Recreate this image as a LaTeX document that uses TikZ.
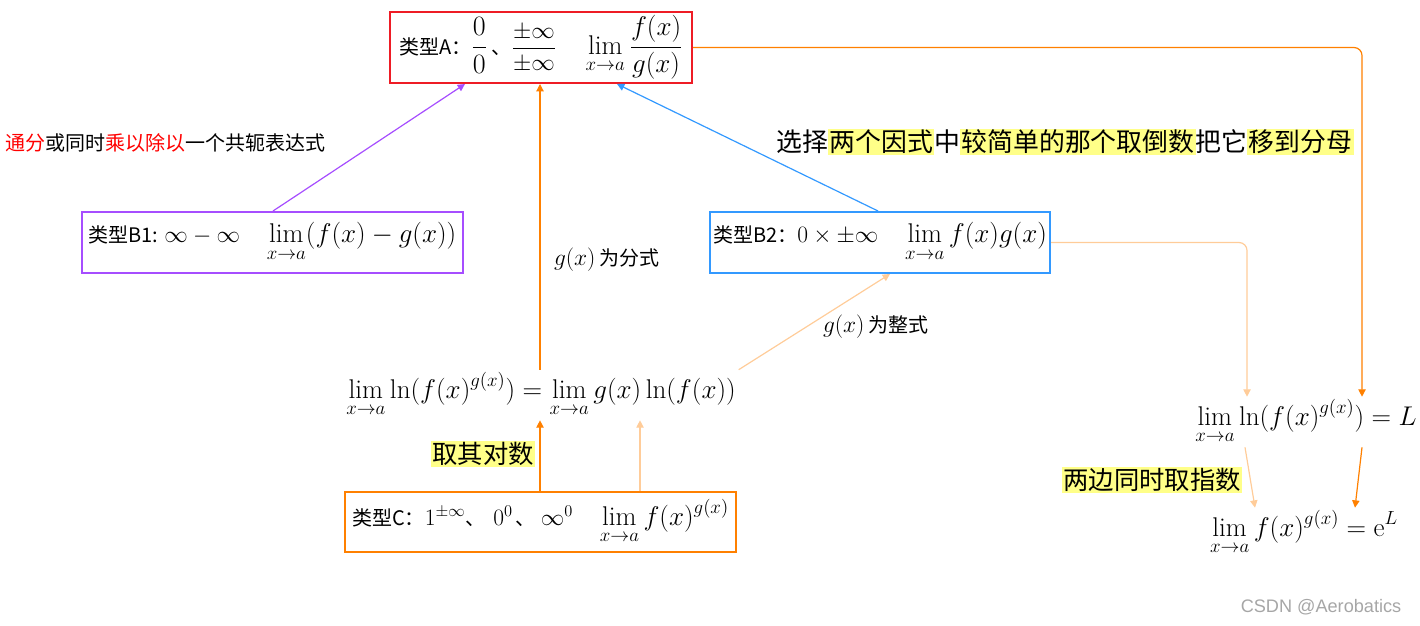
\RequirePackage{fix-cm}
\documentclass[tikz,border=0pt]{standalone}
\usepackage{amsmath}
\usepackage{fontspec}
\newfontfamily\cjk{Noto Sans CJK SC}
\newfontfamily\wmfont{Liberation Sans}
\usetikzlibrary{arrows.meta}
\definecolor{redA}{HTML}{EE1C25}
\definecolor{cpurple}{HTML}{A64DFF}
\definecolor{cblue}{HTML}{3399FF}
\definecolor{corange}{HTML}{FF8000}
\definecolor{clight}{HTML}{FFCC99}
\definecolor{tred}{HTML}{FF0000}
\definecolor{hl}{HTML}{FFFF88}
\newcommand\MyMath{\fontsize{20.3}{24}\selectfont}
\newcommand\MyMathS{\fontsize{17.6}{21}\selectfont}
\newcommand\MyCJK{\cjk\fontsize{15}{17}\selectfont}
\newcommand\hlx[1]{{\setlength{\fboxsep}{1pt}\colorbox{hl}{#1}}}
\begin{document}
\begin{tikzpicture}[x=0.75pt,y=-0.75pt,
  box/.style={draw, line width=1.5pt, inner sep=0pt, fill=white},
  arr/.style={-{Triangle[length=5.5pt,width=5.5pt]}, line width=0.9pt},
  plain/.style={inner sep=2pt}]
\useasboundingbox (0,0) rectangle (1420,625);
% boxes
\node[box, draw=redA, minimum width=226.5pt, minimum height=53.25pt] (A) at (541,47.5)
  {{\MyCJK 类型A：}{\fontsize{21}{24}\selectfont$\dfrac{0}{0}$}\hspace{3pt}{\MyCJK 、}{\MyMathS$\dfrac{\pm\infty}{\pm\infty}$}\hspace{22pt}{\MyMath$\displaystyle\lim_{x\to a}\dfrac{f(x)}{g(x)}$}};
\node[box, draw=cpurple, minimum width=285.75pt, minimum height=45.75pt] (B1) at (272.5,242.5)
  {{\MyCJK 类型B1: }{\MyMathS$\infty-\infty$}\hspace{20pt}{\MyMath$\displaystyle\lim_{x\to a}(f(x)-g(x))$}};
\node[box, draw=cblue, minimum width=255pt, minimum height=45.75pt] (B2) at (880,242.5)
  {{\MyCJK 类型B2：}{\MyMathS$0\times\pm\infty$}\hspace{20pt}{\MyMath$\displaystyle\lim_{x\to a}f(x)g(x)$}};
\node[box, draw=corange, minimum width=293.25pt, minimum height=45pt] (C) at (540.5,522)
  {{\MyCJK 类型C：}{\MyMathS$1^{\pm\infty}$}{\MyCJK 、}\hspace{6pt}{\MyMathS$0^0$}\hspace{2pt}{\MyCJK 、}\hspace{4pt}{\MyMathS$\infty^0$}\hspace{20pt}{\MyMath$\displaystyle\lim_{x\to a}f(x)^{g(x)}$}};
% formulas
\node[plain] (mid) at (541,395) {\MyMath$\displaystyle\lim_{x\to a}\ln(f(x)^{g(x)})=\lim_{x\to a}g(x)\ln(f(x))$};
\node[plain] (R1) at (1306,422) {\MyMath$\displaystyle\lim_{x\to a}\ln(f(x)^{g(x)})=L$};
\node[plain] (R2) at (1304,533) {\MyMath$\displaystyle\lim_{x\to a}f(x)^{g(x)}=\mathrm{e}^L$};
% labels
\node[plain] (L1) at (165,143) {\cjk\fontsize{15}{17}\selectfont\textcolor{tred}{通分}或同时\textcolor{tred}{乘以除以}一个共轭表达式};
\node[plain] (L2) at (1065,142) {\cjk\fontsize{19.4}{21}\selectfont 选择\hlx{两个因式}中\hlx{较简单的那个取倒数}把它\hlx{移到分母}};
\node[plain] (L3) at (483,454) {\cjk\fontsize{19}{21}\selectfont\hlx{取其对数}};
\node[plain] (L4) at (1152,480) {\cjk\fontsize{19}{21}\selectfont\hlx{两边同时取指数}};
\node[plain] (G1) at (607,260) {{\MyMathS$g(x)$} {\MyCJK 为分式}};
\node[plain] (G2) at (876,327) {{\MyMathS$g(x)$} {\MyCJK 为整式}};
\node[plain, text=gray!70] (W) at (1321,607) {\wmfont\fontsize{13.6}{15}\selectfont CSDN @Aerobatics};
% x positions
\coordinate (xA) at (540,0);
\coordinate (xB) at (640,0);
\coordinate (xC) at (890,0);
\coordinate (xD) at (878,0);
\coordinate (xE) at (617,0);
\coordinate (xF) at (273,0);
\coordinate (xG) at (465,0);
\coordinate (xH) at (1362,0);
\coordinate (xI) at (1247,0);
\coordinate (xI2) at (1245,0);
\coordinate (xJ) at (1255,0);
\coordinate (xK) at (1355,0);
% connectors
\draw[arr, corange] (C.north -| xA) -- (mid.south -| xA);
\draw[arr, corange] (mid.north -| xA) -- (A.south -| xA);
\draw[arr, clight] (C.north -| xB) -- (mid.south -| xB);
\draw[arr, clight] (mid.north east) -- (B2.south -| xC);
\draw[arr, cblue] (B2.north -| xD) -- (A.south -| xE);
\draw[arr, cpurple] (B1.north -| xF) -- (A.south -| xG);
\draw[arr, corange, rounded corners=6pt] (A.east) -| (R1.north -| xH);
\draw[arr, clight, rounded corners=6pt] (B2.east) -| (R1.north -| xI);
\draw[arr, clight] (R1.south -| xI2) -- (R2.north -| xJ);
\draw[arr, corange] (R1.south -| xH) -- (R2.north -| xK);
\end{tikzpicture}
\end{document}
